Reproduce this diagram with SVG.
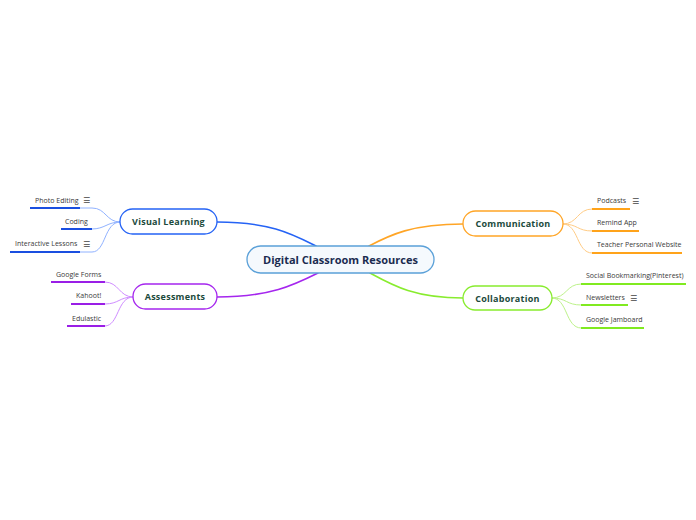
<svg xmlns="http://www.w3.org/2000/svg" width="696" height="520" viewBox="0 0 696 520">
<style>
.bg{fill:#ffffff}
.conn{fill:none;stroke-linecap:round}
.main{stroke-width:1.6}
.sub{stroke-width:1}
.ul{stroke-width:2;fill:none}
.node{stroke-width:1.3;fill:#ffffff}
.nlabel{font-family:"Open Sans","Noto Sans",sans-serif;font-weight:bold;font-size:9px;letter-spacing:0.25px;fill:#1b4a3c;text-anchor:middle;dominant-baseline:central}
.clabel{font-family:"Open Sans","Noto Sans",sans-serif;font-size:7px;fill:#3a3a3a}
.icon{font-family:"DejaVu Sans",sans-serif;font-size:8px;fill:#444444}
</style>
<rect class="bg" x="0" y="0" width="696" height="520"/>
<g id="connectors">
  <path class="conn main" stroke="#2563f5" d="M217,222 C270,222 292,234 316,246"/>
  <path class="conn main" stroke="#a526ee" d="M217,297 C270,297 294,285 318,273"/>
  <path class="conn main" stroke="#ffa526" d="M463,224 C412,224 390,235 369,246"/>
  <path class="conn main" stroke="#88ec2e" d="M463,298 C414,298 392,285 370,273"/>
  <path class="conn sub" stroke="#90b2ff" d="M80,208 L92,208 C106,208 106,222 120,222"/>
  <path class="conn sub" stroke="#90b2ff" d="M92,229 C105,229 107,222 120,222"/>
  <path class="conn sub" stroke="#90b2ff" d="M80,252 L92,252 C106,252 104,222 120,222"/>
  <path class="conn sub" stroke="#cf8cff" d="M105,282 C119,282 119,297 133,297"/>
  <path class="conn sub" stroke="#cf8cff" d="M105,304 C119,304 119,297 133,297"/>
  <path class="conn sub" stroke="#cf8cff" d="M105,326 C119,326 117,297 133,297"/>
  <path class="conn sub" stroke="#ffcc85" d="M563,224 C578,224 577,209 592,209"/>
  <path class="conn sub" stroke="#ffcc85" d="M563,224 C578,224 577,231 592,231"/>
  <path class="conn sub" stroke="#ffcc85" d="M563,224 C579,224 576,253 592,253"/>
  <path class="conn sub" stroke="#bdf28a" d="M552,298 C567,298 566,284 581,284"/>
  <path class="conn sub" stroke="#bdf28a" d="M552,298 C567,298 566,305 581,305"/>
  <path class="conn sub" stroke="#bdf28a" d="M552,298 C568,298 565,328 581,328"/>
</g>
<g id="root">
  <rect x="247" y="246" width="187" height="27" rx="13.5" fill="#f5f9fd" stroke="#5aa0d8" stroke-width="1.3"/>
  <text x="340.5" y="259.5" font-family="'Open Sans','Noto Sans',sans-serif" font-weight="bold" font-size="11" fill="#1b2b50" text-anchor="middle" dominant-baseline="central">Digital Classroom Resources</text>
</g>
<g id="visual-learning">
  <rect class="node" x="120" y="209" width="97" height="25" rx="12.5" stroke="#2563f5"/>
  <text class="nlabel" x="168.5" y="221.5">Visual Learning</text>
</g>
<g id="photo-editing">
  <text class="clabel" x="35" y="202.5">Photo Editing</text>
  <text class="icon" x="83" y="203">☰</text>
  <line class="ul" x1="30" y1="208" x2="80" y2="208" stroke="#1a4fe0"/>
</g>
<g id="coding">
  <text class="clabel" x="65" y="224">Coding</text>
  <line class="ul" x1="61" y1="229" x2="92" y2="229" stroke="#1a4fe0"/>
</g>
<g id="interactive-lessons">
  <text class="clabel" x="15" y="246">Interactive Lessons</text>
  <text class="icon" x="83" y="246.5">☰</text>
  <line class="ul" x1="10" y1="252" x2="80" y2="252" stroke="#1a4fe0"/>
</g>
<g id="assessments">
  <rect class="node" x="133" y="284" width="84" height="25" rx="12.5" stroke="#a526ee"/>
  <text class="nlabel" x="175" y="296.5">Assessments</text>
</g>
<g id="google-forms">
  <text class="clabel" x="56" y="276.5">Google Forms</text>
  <line class="ul" x1="51" y1="282" x2="105" y2="282" stroke="#9a1ee6"/>
</g>
<g id="kahoot">
  <text class="clabel" x="76" y="298">Kahoot!</text>
  <line class="ul" x1="71" y1="304" x2="105" y2="304" stroke="#9a1ee6"/>
</g>
<g id="edulastic">
  <text class="clabel" x="72" y="320.5">Edulastic</text>
  <line class="ul" x1="67" y1="326" x2="105" y2="326" stroke="#9a1ee6"/>
</g>
<g id="communication">
  <rect class="node" x="463" y="211" width="100" height="25" rx="12.5" stroke="#ffa526"/>
  <text class="nlabel" x="513" y="223.5">Communication</text>
</g>
<g id="podcasts">
  <text class="clabel" x="597" y="203">Podcasts</text>
  <text class="icon" x="632" y="203.5">☰</text>
  <line class="ul" x1="592" y1="209" x2="630" y2="209" stroke="#ffa31a"/>
</g>
<g id="remind-app">
  <text class="clabel" x="597" y="225">Remind App</text>
  <line class="ul" x1="592" y1="231" x2="639" y2="231" stroke="#ffa31a"/>
</g>
<g id="teacher-website">
  <text class="clabel" x="597" y="247">Teacher Personal Website</text>
  <line class="ul" x1="592" y1="253" x2="682" y2="253" stroke="#ffa31a"/>
</g>
<g id="collaboration">
  <rect class="node" x="463" y="286" width="89" height="24" rx="12" stroke="#88ec2e"/>
  <text class="nlabel" x="507.5" y="298">Collaboration</text>
</g>
<g id="social-bookmarking">
  <text class="clabel" x="586" y="277.5">Social Bookmarking(Pinterest)</text>
  <line class="ul" x1="581" y1="284" x2="686" y2="284" stroke="#80ea20"/>
</g>
<g id="newsletters">
  <text class="clabel" x="586" y="300">Newsletters</text>
  <text class="icon" x="630" y="300.5">☰</text>
  <line class="ul" x1="581" y1="305" x2="628" y2="305" stroke="#80ea20"/>
</g>
<g id="google-jamboard">
  <text class="clabel" x="586" y="322">Google Jamboard</text>
  <line class="ul" x1="581" y1="328" x2="644" y2="328" stroke="#80ea20"/>
</g>
</svg>
